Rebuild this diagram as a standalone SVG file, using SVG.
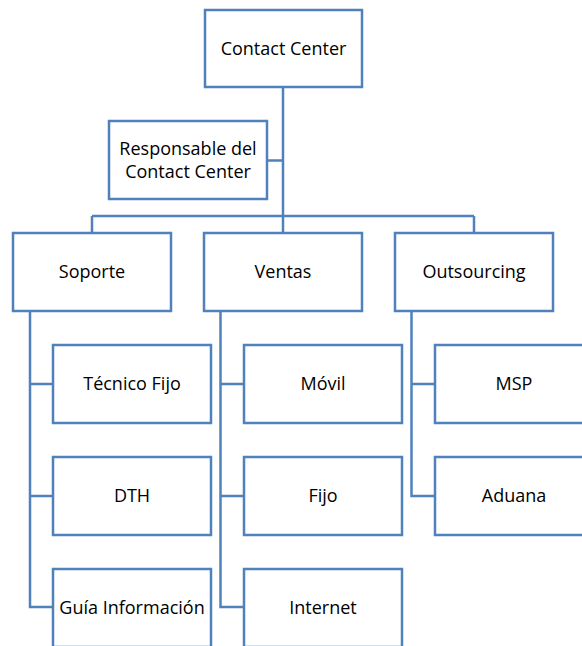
<svg xmlns="http://www.w3.org/2000/svg" width="582" height="646" viewBox="0 0 582 646">
  <style>
    .box { fill: #ffffff; stroke: #4F81BD; stroke-width: 2.5; }
    .wire { fill: none; stroke: #4F81BD; stroke-width: 2.5; }
    .lbl { font-family: "Open Sans", "Liberation Sans", sans-serif; font-size: 18px; fill: #000000; text-anchor: middle; }
  </style>
  <rect width="582" height="646" fill="#ffffff"/>

  <!-- connectors -->
  <g id="connectors">
    <path class="wire" d="M283 88 V233"/>
    <path class="wire" d="M267 160.5 H283"/>
    <path class="wire" d="M92 216 H474 M92 216 V233 M474 216 V233"/>
    <!-- Soporte branch -->
    <path class="wire" d="M30 311 V607 H53 M30 384 H53 M30 496 H53"/>
    <!-- Ventas branch -->
    <path class="wire" d="M220.5 311 V607 H244 M220.5 384 H244 M220.5 496 H244"/>
    <!-- Outsourcing branch -->
    <path class="wire" d="M411.5 311 V496 H435 M411.5 384 H435"/>
  </g>

  <g id="contact-center">
    <rect class="box" x="205" y="10" width="157" height="77"/>
    <text class="lbl" x="283.5" y="54.5">Contact Center</text>
  </g>
  <g id="responsable">
    <rect class="box" x="109" y="121" width="158" height="78"/>
    <text class="lbl" x="188" y="155">Responsable del</text>
    <text class="lbl" x="188" y="178">Contact Center</text>
  </g>

  <g id="soporte">
    <rect class="box" x="13" y="233" width="158" height="78"/>
    <text class="lbl" x="92" y="278">Soporte</text>
  </g>
  <g id="ventas">
    <rect class="box" x="204" y="233" width="158" height="78"/>
    <text class="lbl" x="283" y="278">Ventas</text>
  </g>
  <g id="outsourcing">
    <rect class="box" x="395" y="233" width="158" height="78"/>
    <text class="lbl" x="474" y="278">Outsourcing</text>
  </g>

  <g id="tecnico-fijo">
    <rect class="box" x="53" y="345" width="158" height="78"/>
    <text class="lbl" x="132" y="390">Técnico Fijo</text>
  </g>
  <g id="dth">
    <rect class="box" x="53" y="457" width="158" height="78"/>
    <text class="lbl" x="132" y="502">DTH</text>
  </g>
  <g id="guia-informacion">
    <rect class="box" x="53" y="569" width="158" height="78"/>
    <text class="lbl" x="132" y="614">Guía Información</text>
  </g>

  <g id="movil">
    <rect class="box" x="244" y="345" width="158" height="78"/>
    <text class="lbl" x="323" y="390">Móvil</text>
  </g>
  <g id="fijo">
    <rect class="box" x="244" y="457" width="158" height="78"/>
    <text class="lbl" x="323" y="502">Fijo</text>
  </g>
  <g id="internet">
    <rect class="box" x="244" y="569" width="158" height="78"/>
    <text class="lbl" x="323" y="614">Internet</text>
  </g>

  <g id="msp">
    <rect class="box" x="435" y="345" width="158" height="78"/>
    <text class="lbl" x="514" y="390">MSP</text>
  </g>
  <g id="aduana">
    <rect class="box" x="435" y="457" width="158" height="78"/>
    <text class="lbl" x="514" y="502">Aduana</text>
  </g>
</svg>
